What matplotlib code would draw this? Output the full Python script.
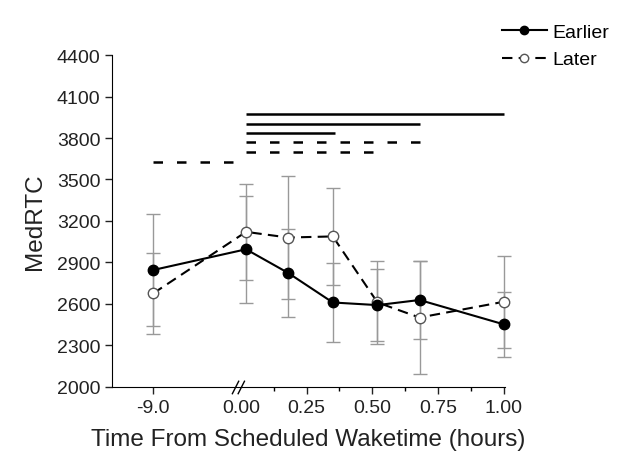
import numpy as np
import matplotlib.pyplot as plt

# hours from scheduled waketime; the -9 h session sits left of the axis break
hours = [-9.0, 0.02, 0.18, 0.35, 0.52, 0.68, 1.00]
earlier = [2845, 2995, 2824, 2610, 2591, 2628, 2452]
earlier_err = [405, 388, 318, 285, 262, 281, 233]
later = [2676, 3121, 3080, 3088, 2610, 2501, 2615]
later_err = [293, 347, 445, 351, 299, 407, 333]

# significance bars: (start, end, y, style)
sig_bars = [
    (0.02, 1.00, 3975, '-'),
    (0.02, 0.68, 3905, '-'),
    (0.02, 0.36, 3838, '-'),
    (0.02, 0.68, 3768, '--'),
    (0.02, 0.51, 3697, '--'),
    (-9.0, -0.02, 3628, '--'),
]

yticks = np.arange(2000, 4401, 300)
xtick_hours = [-9.0, 0.0, 0.25, 0.50, 0.75, 1.00]
xtick_labels = ['-9.0', '0.00', '0.25', '0.50', '0.75', '1.00']

PRE_POS = -0.333  # where -9 h is drawn on the compressed axis


def xpos(h):
    return PRE_POS if h <= -1 else h


plt.rcParams['font.family'] = ['Liberation Sans', 'DejaVu Sans']

fig = plt.figure(figsize=(6.27, 4.60), dpi=100)
ax = fig.add_axes([0.179, 0.157, 0.626, 0.721])

x = [xpos(h) for h in hours]
ax.errorbar(x, earlier, yerr=earlier_err, fmt='none', ecolor='#999999',
            elinewidth=1.0, capsize=5, capthick=1.0, clip_on=False)
ax.errorbar(x, later, yerr=later_err, fmt='none', ecolor='#999999',
            elinewidth=1.0, capsize=5, capthick=1.0, clip_on=False)
ax.plot(x, later, color='black', lw=1.5, ls=(0, (5, 3)), marker='o',
        ms=7.5, mfc='white', mec='#555555', mew=1.0, label='Later', clip_on=False)
ax.plot(x, earlier, color='black', lw=1.5, ls='-', marker='o',
        ms=7.5, mfc='black', mec='black', label='Earlier', clip_on=False)

for x0, x1, y, style in sig_bars:
    ls = '-' if style == '-' else (0, (3.8, 5.6))
    ax.plot([xpos(x0), xpos(x1)], [y, y], color='black', lw=1.8, ls=ls,
            solid_capstyle='butt', dash_capstyle='butt')

ax.set_xlim(-0.489, 1.004)
ax.set_ylim(2000, 4400)
ax.set_yticks(yticks)
ax.set_xticks([xpos(h) for h in xtick_hours])
ax.set_xticklabels(xtick_labels)
ax.set_xticks([0.125, 0.375, 0.625, 0.875], minor=True)
ax.tick_params(axis='both', which='major', direction='out', length=5,
               labelsize=14, width=1.0, colors='#222222')
ax.tick_params(axis='x', which='minor', direction='out', length=3, width=1.0)
# no tick mark at 0.00, only its label
ax.xaxis.get_major_ticks()[1].tick1line.set_visible(False)

ax.spines['top'].set_visible(False)
ax.spines['right'].set_visible(False)

# axis break marks
for dx in (-0.02, 0.002):
    ax.plot([dx - 0.012, dx + 0.012], [1950, 2040], color='black', lw=1.0,
            clip_on=False)

ax.set_ylabel('MedRTC', fontsize=17.5, labelpad=8, color='#222222')
ax.set_xlabel('Time From Scheduled Waketime (hours)', fontsize=17.5,
              labelpad=9, color='#222222')

handles, labels = ax.get_legend_handles_labels()
fig.legend(handles[::-1], labels[::-1], loc='upper right',
           bbox_to_anchor=(1.0, 0.985), frameon=False, fontsize=14,
           handlelength=2.3, handletextpad=0.3, labelspacing=0.5,
           markerscale=0.8)

fig.savefig('out.png', dpi=100)
